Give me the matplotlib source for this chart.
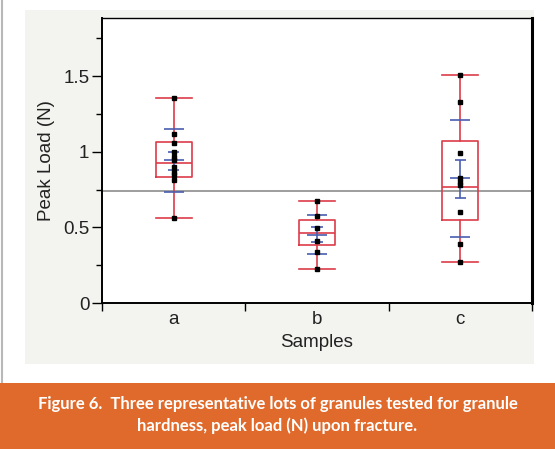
import matplotlib
matplotlib.use("Agg")
import matplotlib.pyplot as plt
from matplotlib.patches import Rectangle
from matplotlib.lines import Line2D

# data
samples = ["a", "b", "c"]
whisker_low = [0.564, 0.225, 0.273]
q1 = [0.835, 0.383, 0.549]
median = [0.923, 0.465, 0.769]
q3 = [1.062, 0.549, 1.071]
whisker_high = [1.355, 0.674, 1.507]
means = [0.943, 0.452, 0.824]
std_devs = [0.207, 0.130, 0.385]
ci_low = [0.88, 0.405, 0.696]
ci_high = [1.0, 0.504, 0.945]
points = [
    [1.355, 1.115, 1.055, 1.0, 0.967, 0.945, 0.90, 0.868, 0.846, 0.813, 0.564],
    [0.674, 0.575, 0.498, 0.41, 0.335, 0.225],
    [1.507, 1.33, 0.99, 0.83, 0.80, 0.78, 0.60, 0.388, 0.273],
]
grand_mean = 0.742
caption = ("Figure 6.  Three representative lots of granules tested for granule\n"
           "hardness, peak load (N) upon fracture.")

RED = "#dc3c48"
BLUE = "#4a5db0"

fig = plt.figure(figsize=(5.55, 4.49), dpi=100)
fig.patch.set_facecolor("white")

# grey panel behind the plot and orange caption band
fig.patches.append(Rectangle((25 / 555, 1 - 364 / 449), 509 / 555, 354 / 449,
                             transform=fig.transFigure, facecolor="#f3f3ef",
                             edgecolor="none", zorder=-2))
fig.patches.append(Rectangle((0, 0), 1, 66 / 449, transform=fig.transFigure,
                             facecolor="#e06a2b", edgecolor="none", zorder=-2))
fig.lines.append(Line2D([2 / 555, 2 / 555], [66 / 449, 1], transform=fig.transFigure,
                        color="#b8b8b8", lw=1.5, zorder=-2))

ax = fig.add_axes([102 / 555, 1 - 303 / 449, 430 / 555, 285 / 449])
ax.set_zorder(2)
ax.set_facecolor("white")

positions = [0.5, 1.5, 2.5]
stats = []
for i, s in enumerate(samples):
    stats.append(dict(label=s, whislo=whisker_low[i], q1=q1[i], med=median[i],
                      q3=q3[i], whishi=whisker_high[i], fliers=[]))
red_props = dict(color=RED, linewidth=1.2)
ax.bxp(stats, positions=positions, widths=0.25, showfliers=False,
       boxprops=red_props, whiskerprops=red_props, capprops=red_props,
       medianprops=red_props, capwidths=0.25, zorder=3)

ax.axhline(grand_mean, color="#8c8c8c", lw=1.2, zorder=2)

for i, x in enumerate(positions):
    m = means[i]
    sd = std_devs[i]
    ax.hlines([m + sd, m - sd, m], x - 0.07, x + 0.07, color=BLUE, lw=1.2, zorder=4)
    ax.vlines(x, ci_low[i], ci_high[i], color=BLUE, lw=1.2, zorder=4)
    ax.hlines([ci_low[i], ci_high[i]], x - 0.04, x + 0.04, color=BLUE, lw=1.2, zorder=4)
    ax.plot([x] * len(points[i]), points[i], "s", color="black", ms=2.2, zorder=5)

ax.set_xlim(0, 3)
ax.set_ylim(0, 1.885)
ax.set_yticks([0, 0.5, 1, 1.5])
ax.set_yticklabels(["0", "0.5", "1", "1.5"])
ax.set_yticks([0.25, 0.75, 1.25, 1.75], minor=True)
ax.set_xticks([0, 1, 2, 3])
ax.set_xticklabels([])
ax.set_xticks(positions, minor=True)
ax.set_xticklabels(samples, minor=True)

ax.tick_params(axis="y", which="major", length=7, width=1, labelsize=13.5,
               labelcolor="#222222", pad=2)
ax.tick_params(axis="y", which="minor", length=4, width=1)
ax.tick_params(axis="x", which="major", length=6, width=1)
ax.tick_params(axis="x", which="minor", length=0, labelsize=13.5,
               labelcolor="#222222", pad=6)
for lbl in ax.get_xticklabels(minor=True) + ax.get_yticklabels():
    lbl.set_family("Liberation Sans")

ax.spines["left"].set_linewidth(1.4)
ax.spines["bottom"].set_linewidth(1.4)
ax.spines["top"].set_linewidth(1.0)
ax.spines["right"].set_linewidth(2.2)

ax.set_xlabel("Samples", fontsize=13.5, family="Liberation Sans", color="#222222",
              labelpad=4)
ax.set_ylabel("Peak Load (N)", fontsize=13.5, family="Liberation Sans", color="#222222",
              labelpad=6)

fig.text(0.5, 34 / 449, caption, ha="center", va="center", color="white",
         fontsize=12, fontweight="bold", family="Lato", linespacing=1.45)

fig.savefig("out.png", dpi=100)
